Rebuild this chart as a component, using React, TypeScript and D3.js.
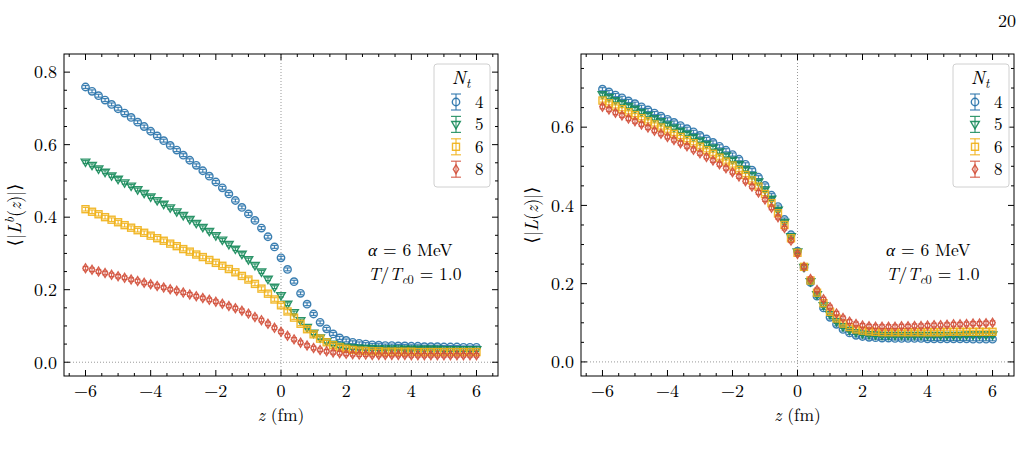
import React from "react";
import * as d3 from "d3";

// lattice positions along z (fm)
const zGrid = [
  -6.0, -5.8, -5.6, -5.4, -5.2, -5.0, -4.8, -4.6, -4.4, -4.2,
  -4.0, -3.8, -3.6, -3.4, -3.2, -3.0, -2.8, -2.6, -2.4, -2.2,
  -2.0, -1.8, -1.6, -1.4, -1.2, -1.0, -0.8, -0.6, -0.4, -0.2,
  0.0, 0.2, 0.4, 0.6, 0.8, 1.0, 1.2, 1.4, 1.6, 1.8,
  2.0, 2.2, 2.4, 2.6, 2.8, 3.0, 3.2, 3.4, 3.6, 3.8,
  4.0, 4.2, 4.4, 4.6, 4.8, 5.0, 5.2, 5.4, 5.6, 5.8,
  6.0,
];

const ntLabels = ["4", "5", "6", "8"];

// <|L^b(z)|>
const lbNt4 = [
  0.759, 0.747, 0.735, 0.723, 0.711, 0.699, 0.687, 0.675, 0.662, 0.650,
  0.637, 0.624, 0.611, 0.598, 0.585, 0.571, 0.557, 0.543, 0.528, 0.513,
  0.497, 0.481, 0.464, 0.446, 0.427, 0.409, 0.391, 0.370, 0.346, 0.318,
  0.288, 0.256, 0.222, 0.190, 0.160, 0.133, 0.110, 0.092, 0.078, 0.067,
  0.060, 0.055, 0.052, 0.050, 0.048, 0.047, 0.046, 0.046, 0.045, 0.045,
  0.044, 0.044, 0.043, 0.043, 0.043, 0.042, 0.042, 0.042, 0.041, 0.041,
  0.041,
];
const lbNt5 = [
  0.552, 0.543, 0.533, 0.524, 0.514, 0.505, 0.495, 0.486, 0.476, 0.466,
  0.456, 0.446, 0.436, 0.426, 0.415, 0.405, 0.394, 0.383, 0.372, 0.361,
  0.349, 0.337, 0.325, 0.312, 0.298, 0.283, 0.267, 0.249, 0.229, 0.207,
  0.184, 0.160, 0.137, 0.115, 0.096, 0.080, 0.067, 0.057, 0.050, 0.045,
  0.042, 0.040, 0.039, 0.038, 0.038, 0.037, 0.037, 0.037, 0.037, 0.036,
  0.036, 0.036, 0.036, 0.036, 0.036, 0.035, 0.035, 0.035, 0.035, 0.035,
  0.035,
];
const lbNt6 = [
  0.422, 0.415, 0.408, 0.400, 0.393, 0.386, 0.378, 0.371, 0.364, 0.357,
  0.349, 0.342, 0.335, 0.327, 0.320, 0.312, 0.305, 0.297, 0.290, 0.282,
  0.274, 0.266, 0.257, 0.248, 0.238, 0.228, 0.216, 0.203, 0.189, 0.173,
  0.157, 0.140, 0.123, 0.106, 0.091, 0.077, 0.065, 0.055, 0.047, 0.041,
  0.037, 0.034, 0.032, 0.031, 0.030, 0.030, 0.029, 0.029, 0.029, 0.029,
  0.029, 0.028, 0.028, 0.028, 0.028, 0.028, 0.028, 0.028, 0.028, 0.028,
  0.028,
];
const lbNt8 = [
  0.259, 0.255, 0.250, 0.246, 0.241, 0.237, 0.233, 0.228, 0.224, 0.219,
  0.215, 0.210, 0.206, 0.201, 0.197, 0.192, 0.187, 0.182, 0.177, 0.172,
  0.167, 0.161, 0.155, 0.149, 0.142, 0.134, 0.125, 0.116, 0.106, 0.095,
  0.084, 0.073, 0.063, 0.054, 0.046, 0.039, 0.034, 0.030, 0.027, 0.025,
  0.023, 0.022, 0.021, 0.021, 0.020, 0.020, 0.020, 0.020, 0.020, 0.020,
  0.019, 0.019, 0.019, 0.019, 0.019, 0.019, 0.019, 0.019, 0.019, 0.019,
  0.019,
];
const lbErr = [0.004, 0.004, 0.005, 0.005];

// <|L(z)|>
const lNt4 = [
  0.697, 0.690, 0.682, 0.675, 0.667, 0.660, 0.652, 0.644, 0.636, 0.628,
  0.620, 0.612, 0.604, 0.596, 0.588, 0.579, 0.570, 0.561, 0.551, 0.541,
  0.530, 0.518, 0.505, 0.490, 0.472, 0.451, 0.426, 0.397, 0.364, 0.325,
  0.283, 0.242, 0.203, 0.168, 0.138, 0.114, 0.096, 0.083, 0.074, 0.068,
  0.065, 0.063, 0.062, 0.061, 0.061, 0.060, 0.060, 0.060, 0.060, 0.060,
  0.059, 0.059, 0.059, 0.059, 0.059, 0.059, 0.059, 0.058, 0.058, 0.058,
  0.058,
];
const lNt5 = [
  0.683, 0.676, 0.668, 0.661, 0.653, 0.646, 0.638, 0.630, 0.622, 0.614,
  0.606, 0.598, 0.590, 0.582, 0.574, 0.565, 0.556, 0.547, 0.537, 0.527,
  0.516, 0.505, 0.492, 0.477, 0.460, 0.440, 0.416, 0.388, 0.357, 0.320,
  0.281, 0.242, 0.205, 0.172, 0.144, 0.121, 0.103, 0.090, 0.081, 0.075,
  0.072, 0.070, 0.069, 0.068, 0.068, 0.068, 0.068, 0.068, 0.068, 0.068,
  0.068, 0.068, 0.068, 0.068, 0.068, 0.068, 0.069, 0.069, 0.069, 0.069,
  0.069,
];
const lNt6 = [
  0.668, 0.661, 0.653, 0.646, 0.638, 0.631, 0.623, 0.615, 0.607, 0.599,
  0.591, 0.583, 0.575, 0.567, 0.559, 0.550, 0.541, 0.532, 0.522, 0.512,
  0.502, 0.491, 0.478, 0.464, 0.448, 0.429, 0.406, 0.380, 0.350, 0.316,
  0.279, 0.243, 0.208, 0.177, 0.150, 0.128, 0.111, 0.098, 0.089, 0.083,
  0.080, 0.078, 0.077, 0.076, 0.076, 0.076, 0.076, 0.076, 0.076, 0.076,
  0.076, 0.076, 0.076, 0.077, 0.077, 0.077, 0.077, 0.077, 0.077, 0.077,
  0.077,
];
const lNt8 = [
  0.652, 0.645, 0.637, 0.630, 0.622, 0.615, 0.607, 0.599, 0.591, 0.583,
  0.575, 0.567, 0.559, 0.551, 0.542, 0.533, 0.524, 0.515, 0.505, 0.495,
  0.485, 0.474, 0.462, 0.448, 0.433, 0.415, 0.394, 0.370, 0.342, 0.310,
  0.276, 0.243, 0.212, 0.184, 0.160, 0.140, 0.124, 0.112, 0.103, 0.097,
  0.093, 0.091, 0.090, 0.090, 0.090, 0.090, 0.091, 0.091, 0.092, 0.092,
  0.093, 0.094, 0.094, 0.095, 0.096, 0.096, 0.097, 0.098, 0.098, 0.099,
  0.100,
];
const lErr = [0.004, 0.004, 0.004, 0.005];

const xTicks = [-6, -4, -2, 0, 2, 4, 6];
const lbTicks = [0.0, 0.2, 0.4, 0.6, 0.8];
const lTicks = [0.0, 0.2, 0.4, 0.6];

const colors = ["#2570a8", "#148858", "#f0b015", "#d24f3a"];
const shapes = ["circle", "tri", "square", "diamond"];

const FONT = "'Latin Modern Roman', 'CMU Serif', 'Times New Roman', 'Liberation Serif', 'DejaVu Serif', serif";
const fmtX = d3.format("d");
const fmtY = d3.format(".1f");

function Marker({ kind, x, y, color }: { kind: string; x: number; y: number; color: string }) {
  const common = { fill: "none", stroke: color, strokeWidth: 1.4, strokeOpacity: 0.9 };
  if (kind === "circle") return <circle cx={x} cy={y} r={3.7} {...common} />;
  if (kind === "tri")
    return <path d={`M${x - 4.3},${y - 2.9}L${x + 4.3},${y - 2.9}L${x},${y + 4.4}Z`} {...common} />;
  if (kind === "square") return <rect x={x - 3.5} y={y - 3.5} width={7} height={7} {...common} />;
  return <path d={`M${x},${y - 4.4}L${x + 2.7},${y}L${x},${y + 4.4}L${x - 2.7},${y}Z`} {...common} />;
}

function ErrPoint({ x, y0, y1, y, kind, color, cap }: any) {
  return (
    <g>
      <line x1={x} x2={x} y1={y0} y2={y1} stroke={color} strokeOpacity={0.85} strokeWidth={1.2} />
      <line x1={x - cap} x2={x + cap} y1={y0} y2={y0} stroke={color} strokeOpacity={0.85} strokeWidth={1.2} />
      <line x1={x - cap} x2={x + cap} y1={y1} y2={y1} stroke={color} strokeOpacity={0.85} strokeWidth={1.2} />
      <Marker kind={kind} x={x} y={y} color={color} />
    </g>
  );
}

function Panel(props: {
  left: number;
  right: number;
  yDomain: [number, number];
  yTicks: number[];
  series: number[][];
  errs: number[];
  yLabel: React.ReactNode;
  legendX: number;
  noteX: number;
}) {
  const top = 54;
  const bottom = 376;
  const x = d3.scaleLinear().domain([-6.66, 6.66]).range([props.left, props.right]);
  const y = d3.scaleLinear().domain(props.yDomain).range([bottom, top]);
  const xMinor = d3.range(-6.5, 6.51, 0.5).filter((v) => !xTicks.includes(v));
  const yMinor = d3
    .range(0, props.yDomain[1], 0.05)
    .filter((v) => Math.abs((v * 5) % 1) > 0.01 && Math.abs((v * 5) % 1) < 0.99);
  const midY = (top + bottom) / 2;

  return (
    <g style={{ fontFamily: FONT }}>
      {/* reference lines at z = 0 and y = 0 */}
      <line x1={x(0)} x2={x(0)} y1={top} y2={bottom} stroke="#999" strokeWidth={1} strokeDasharray="1,2" />
      <line x1={props.left} x2={props.right} y1={y(0)} y2={y(0)} stroke="#999" strokeWidth={1} strokeDasharray="1,2" />

      {props.series.map((vals, si) => (
        <g key={si}>
          {vals.map((v, i) => (
            <ErrPoint
              key={i}
              x={x(zGrid[i])}
              y={y(v)}
              y0={y(v - props.errs[si])}
              y1={y(v + props.errs[si])}
              kind={shapes[si]}
              color={colors[si]}
              cap={2.8}
            />
          ))}
        </g>
      ))}

      {/* frame */}
      <rect x={props.left} y={top} width={props.right - props.left} height={bottom - top} fill="none" stroke="#000" strokeWidth={1} />

      {/* x ticks, inward on both sides */}
      {xTicks.map((t) => (
        <g key={t}>
          <line x1={x(t)} x2={x(t)} y1={bottom} y2={bottom - 6} stroke="#000" />
          <line x1={x(t)} x2={x(t)} y1={top} y2={top + 6} stroke="#000" />
          <text x={x(t)} y={bottom + 21} textAnchor="middle" fontSize={18}>
            {fmtX(t)}
          </text>
        </g>
      ))}
      {xMinor.map((t) => (
        <g key={t}>
          <line x1={x(t)} x2={x(t)} y1={bottom} y2={bottom - 3} stroke="#000" />
          <line x1={x(t)} x2={x(t)} y1={top} y2={top + 3} stroke="#000" />
        </g>
      ))}

      {/* y ticks */}
      {props.yTicks.map((t) => (
        <g key={t}>
          <line x1={props.left} x2={props.left + 6} y1={y(t)} y2={y(t)} stroke="#000" />
          <line x1={props.right} x2={props.right - 6} y1={y(t)} y2={y(t)} stroke="#000" />
          <text x={props.left - 7} y={y(t)} dy="0.35em" textAnchor="end" fontSize={18}>
            {fmtY(t)}
          </text>
        </g>
      ))}
      {yMinor.map((t) => (
        <g key={t}>
          <line x1={props.left} x2={props.left + 3} y1={y(t)} y2={y(t)} stroke="#000" />
          <line x1={props.right} x2={props.right - 3} y1={y(t)} y2={y(t)} stroke="#000" />
        </g>
      ))}

      {/* axis labels */}
      <text x={x(0)} y={bottom + 45} textAnchor="middle" fontSize={17.5}>
        <tspan fontStyle="italic">z</tspan> (fm)
      </text>
      <text transform={`translate(${props.left - 43},${midY}) rotate(-90)`} textAnchor="middle" fontSize={18}>
        {props.yLabel}
      </text>

      {/* parameter note */}
      <text x={props.noteX} y={256} fontSize={17.5}>
        <tspan fontStyle="italic">α</tspan> = 6 MeV
      </text>
      <text x={props.noteX} y={280} fontSize={17.5}>
        <tspan fontStyle="italic">T</tspan>/<tspan fontStyle="italic">T</tspan>
        <tspan fontSize={12.5} dy={3.5}>
          <tspan fontStyle="italic">c</tspan>0
        </tspan>
        <tspan dy={-3.5}> = 1.0</tspan>
      </text>

      {/* legend */}
      <g transform={`translate(${props.legendX},64)`}>
        <rect x={0} y={0} width={56} height={123} rx={3} fill="#fff" fillOpacity={0.8} stroke="#d0d0d0" />
        <text x={27} y={20} textAnchor="middle" fontSize={19}>
          <tspan fontStyle="italic">N</tspan>
          <tspan fontStyle="italic" fontSize={13} dy={4}>t</tspan>
        </text>
        {ntLabels.map((lab, i) => {
          const cy = 38 + i * 22.4;
          return (
            <g key={lab}>
              <ErrPoint x={22} y={cy} y0={cy - 8} y1={cy + 8} kind={shapes[i]} color={colors[i]} cap={5} />
              <text x={41} y={cy} dy="0.35em" fontSize={17}>
                {lab}
              </text>
            </g>
          );
        })}
      </g>
    </g>
  );
}

export default function App() {
  return (
    <svg width={1025} height={453} style={{ position: "absolute", left: 0, top: 0, background: "#fff" }}>
      <text x={1016} y={27} textAnchor="end" fontSize={18} style={{ fontFamily: FONT }}>
        20
      </text>
      <Panel
        left={64}
        right={498}
        yDomain={[-0.038, 0.85]}
        yTicks={lbTicks}
        series={[lbNt4, lbNt5, lbNt6, lbNt8]}
        errs={lbErr}
        legendX={434}
        noteX={368}
        yLabel={
          <>
            ⟨|<tspan fontStyle="italic">L</tspan>
            <tspan fontStyle="italic" fontSize={13} dy={-7}>b</tspan>
            <tspan dy={7}>(</tspan>
            <tspan fontStyle="italic">z</tspan>)|⟩
          </>
        }
      />
      <Panel
        left={581}
        right={1014}
        yDomain={[-0.036, 0.787]}
        yTicks={lTicks}
        series={[lNt4, lNt5, lNt6, lNt8]}
        errs={lErr}
        legendX={953}
        noteX={886}
        yLabel={
          <>
            ⟨|<tspan fontStyle="italic">L</tspan>(<tspan fontStyle="italic">z</tspan>)|⟩
          </>
        }
      />
    </svg>
  );
}
